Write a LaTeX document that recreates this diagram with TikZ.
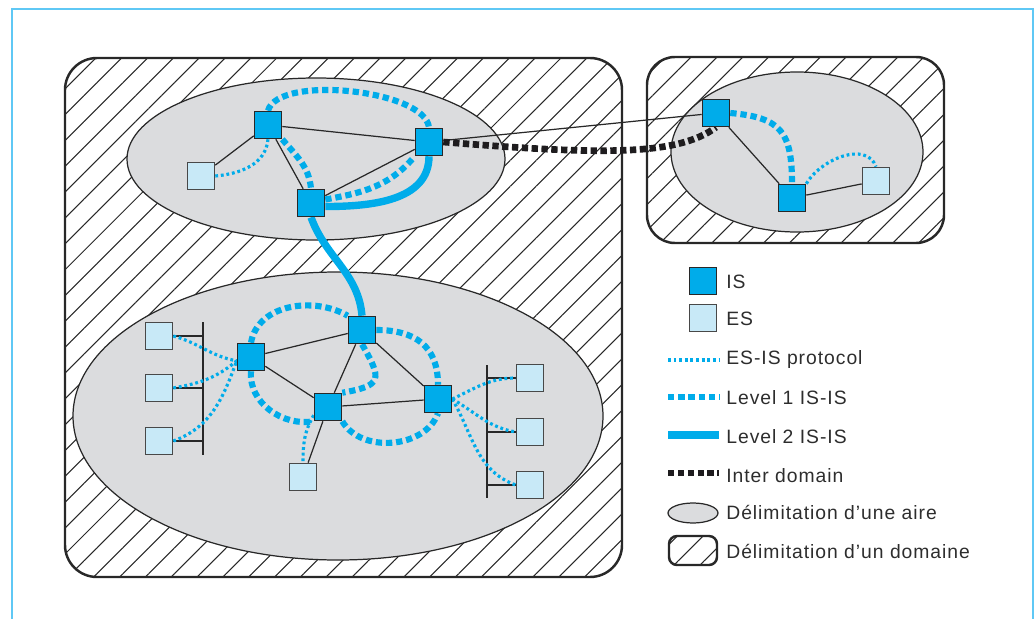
\documentclass[tikz,border=0pt]{standalone}
\usepackage{fontspec}
\setmainfont{Liberation Sans}[LetterSpace=5]
\usetikzlibrary{patterns.meta}
\definecolor{iscyan}{RGB}{0,172,234}
\definecolor{eslight}{RGB}{200,233,247}
\definecolor{airegray}{RGB}{219,220,222}
\definecolor{framebl}{RGB}{95,200,245}
\definecolor{linegray}{RGB}{40,40,40}
\definecolor{txtgray}{RGB}{45,45,45}
\definecolor{interblk}{RGB}{30,28,30}
\pgfdeclarelayer{back}
\pgfdeclarelayer{mid}
\pgfsetlayers{back,mid,main}
\newcommand\drawIsSquare[3]{%
\node[rectangle, draw = linegray, line width = 0.9pt, fill = iscyan, minimum size = 0.54cm, inner sep = 0pt] (#3) at (#1,#2) {};
}
\newcommand\drawEsSquare[3]{%
\node[rectangle, draw = linegray!85, line width = 0.9pt, fill = eslight, minimum size = 0.54cm, inner sep = 0pt] (#3) at (#1,#2) {};
}
\newcommand\drawDomainBox[5]{%
\draw[line width = 1.4pt, draw = linegray, rounded corners = #5, pattern = {Lines[angle=45, distance=10.4pt, line width=0.6pt]}, pattern color = linegray] (#1,#2) rectangle (#3,#4);
}
\newcommand\drawAireEllipse[4]{%
\draw[fill = airegray, draw = linegray, line width = 0.7pt] (#1,#2) ellipse [x radius = #3, y radius = #4];
}

\begin{document}
\begin{tikzpicture}[x=0.02cm, y=0.02cm,
			t1/.style={draw=linegray, line width=0.7pt},
			t2/.style={draw=iscyan, line width=1.8pt, dash pattern=on 1.6pt off 1.6pt},
			t3/.style={draw=iscyan, line width=3.5pt, dash pattern=on 3.6pt off 2.2pt},
			t4/.style={draw=iscyan, line width=4.2pt},
			t5/.style={draw=interblk, line width=3.8pt, dash pattern=on 3.6pt off 2pt},
			lgtxt/.style={anchor=base west, inner sep=0pt, text=txtgray, font=\fontsize{11}{13}\selectfont}]

			\useasboundingbox (0,0) rectangle (1036,-619);
			% outer frame
			\draw[framebl, line width=1.2pt] (12,-640) -- (12,-9) -- (1033,-9) -- (1033,-640);

			\begin{pgfonlayer}{back}
			% drawing domains
			\drawDomainBox{65}{-58}{622}{-577}{0.64cm}
			\drawDomainBox{647}{-57}{944}{-243}{0.56cm}
			% drawing areas
			\drawAireEllipse{316}{-159}{189}{81}
			\drawAireEllipse{338}{-416}{265}{144}
			\drawAireEllipse{797}{-152}{126}{80}
			\end{pgfonlayer}

			% drawing IS and ES
			\drawIsSquare{268}{-125}{isT1} \drawIsSquare{429}{-142}{isT2}
			\drawIsSquare{311}{-203}{isT3} \drawEsSquare{201}{-176}{esT1}
			\drawIsSquare{716}{-113}{isR1} \drawIsSquare{792}{-198}{isR2}
			\drawEsSquare{876}{-181}{esR1}
			\drawIsSquare{251}{-357}{isB1} \drawIsSquare{362}{-330}{isB2}
			\drawIsSquare{328}{-407}{isB3} \drawIsSquare{438}{-399}{isB4}
			\drawEsSquare{159}{-336}{esB1} \drawEsSquare{159}{-388}{esB2}
			\drawEsSquare{159}{-441}{esB3} \drawEsSquare{303}{-477}{esB4}
			\drawEsSquare{530}{-378}{esB5} \drawEsSquare{530}{-432}{esB6}
			\drawEsSquare{530}{-485}{esB7}
			\coordinate (busLt) at (203,-322); \coordinate (busLb) at (203,-455);
			\coordinate (busRt) at (487,-365); \coordinate (busRb) at (487,-498);

			\begin{pgfonlayer}{mid}
			% drawing links
			\draw[t1] (esT1) -- (isT1);
			\draw[t1] (isT1) -- (isT2);
			\draw[t1] (isT1) -- (isT3);
			\draw[t1] (isT3) -- (isT2);
			\draw[t1] (isT2) -- (isR1);
			\draw[t1] (isR1) -- (isR2);
			\draw[t1] (isR2) -- (esR1);
			\draw[t1] (isB1) -- (isB2);
			\draw[t1] (isB1) -- (isB3);
			\draw[t1] (isB2) -- (isB3);
			\draw[t1] (isB2) -- (isB4);
			\draw[t1] (isB3) -- (isB4);
			\draw[t1] (isB3) -- (esB4);
			\draw[t1] (busLt) -- (busLb);
			\draw[t1] (busRt) -- (busRb);
			\foreach \es in {esB1,esB2,esB3} {
				\draw[t1] (\es.east) -- (\es -| busLt);
			}
			\foreach \es in {esB5,esB6,esB7} {
				\draw[t1] (\es.west) -- (\es -| busRt);
			}

			% ES-IS protocol
			\draw[t2] (esT1.east) to[out=5, in=-95] (isT1.south);
			\draw[t2] (isR2.north east) to[out=60, in=110] (esR1.north);
			\draw[t2] (esB1.east) to[out=-15, in=170] (isB1.195);
			\draw[t2] (esB2.east) to[out=10, in=-140] (isB1.195);
			\draw[t2] (esB3.east) to[out=20, in=-110] (isB1.195);
			\draw[t2] (isB4.east) to[out=25, in=180] (esB5.west);
			\draw[t2] (isB4.east) to[out=-30, in=170] (esB6.west);
			\draw[t2] (isB4.east) to[out=-60, in=160] (esB7.west);
			\draw[t2] (isB3.210) to[out=-120, in=90] (esB4.north);

			% level 1
			\draw[t3] (isT1.north) to[out=75, in=95, looseness=0.6] (isT2.north);
			\draw[t3] (isT1.south east) to[out=-50, in=95] (isT3.north);
			\draw[t3] ([yshift=2pt]isT3.east) to[out=10, in=-130] (isT2.south west);
			\draw[t3] (isR1.east) to[out=-5, in=90, looseness=1.4] (isR2.north);
			\draw[t3] (isB1.north) to[out=80, in=150] (isB2.north west);
			\draw[t3] (isB1.south) to[out=-95, in=190] (isB3.south west);
			\draw[t3] (isB2.south) to[out=-60, in=10, looseness=2] (isB3.north east);
			\draw[t3] (isB2.east) to[out=0, in=90, looseness=1.2] (isB4.north);
			\draw[t3] (isB3.south east) to[out=-60, in=-110] (isB4.south);

			% level 2
			\draw[t4] ([yshift=-2pt]isT3.east) to[out=0, in=-90] (isT2.south);
			\draw[t4] (isT3.south) to[out=-70, in=95] (isB2.north);

			% inter domain
			\draw[t5] (isT2.east) .. controls +(150,-12) and +(-40,-30) .. (isR1.south);
			\end{pgfonlayer}

			% drawing legend
			\drawIsSquare{703}{-281}{lgis}
			\drawEsSquare{703}{-318}{lges}
			\node[lgtxt] (lgist) at (726,-288) {IS};
			\node[lgtxt] (lgest) at (726,-325) {ES};
			\node[lgtxt] (lgesis) at (726,-364) {ES-IS protocol};
			\node[lgtxt] (lglone) at (726,-404) {Level 1 IS-IS};
			\node[lgtxt] (lgltwo) at (726,-443) {Level 2 IS-IS};
			\node[lgtxt] (lginter) at (726,-482) {Inter domain};
			\node[lgtxt] (lgaire) at (726,-519) {Délimitation d’une aire};
			\node[lgtxt] (lgdom) at (726,-558) {Délimitation d’un domaine};
			\coordinate (k1) at (668,-360); \coordinate (k1e) at (719,-360);
			\coordinate (k2) at (668,-397); \coordinate (k2e) at (719,-397);
			\coordinate (k3) at (668,-435); \coordinate (k3e) at (719,-435);
			\coordinate (k4) at (668,-473); \coordinate (k4e) at (719,-473);
			\draw[t2] (k1) -- (k1e);
			\draw[t3] (k2) -- (k2e);
			\draw[t4] (k3) -- (k3e);
			\draw[t5] (k4) -- (k4e);
			\drawAireEllipse{693}{-513}{25}{10}
			\drawDomainBox{669}{-536}{717}{-565}{0.16cm}

		\end{tikzpicture}
\end{document}
